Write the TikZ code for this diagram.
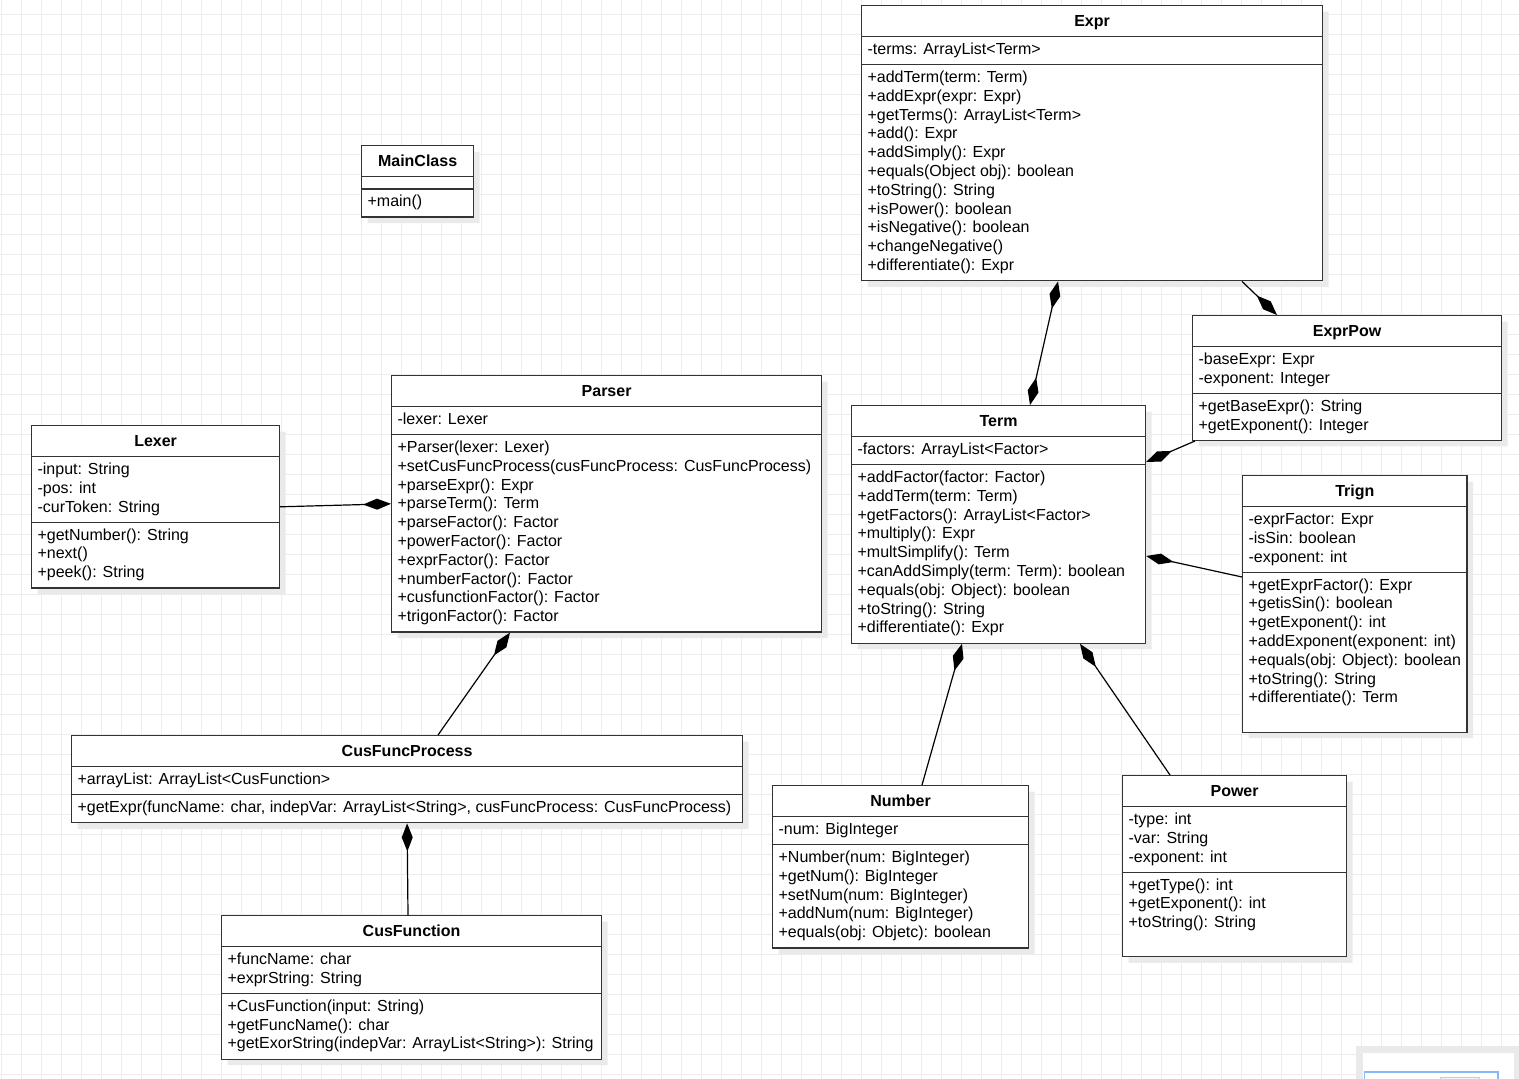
\documentclass[tikz,border=0pt]{standalone}
\usepackage{fontspec}
\setmainfont{Liberation Sans}
\usetikzlibrary{arrows.meta,shapes.multipart,shadows}
\definecolor{gridLine}{HTML}{EDEDED}
\definecolor{boxDraw}{HTML}{333333}
\definecolor{shadowFill}{HTML}{EAEAEA}
\definecolor{mapBlue}{HTML}{8AB8F5}
\tikzset{
  font=\fontsize{16}{18.8}\selectfont,
  cls/.style   ={draw=boxDraw, fill=white, line width=1.2pt, anchor=north west,
                 rectangle split, rectangle split parts=3,
                 rectangle split part align={center,left,left}, align=left,
                 inner xsep=6pt, inner ysep=4pt,
                 drop shadow={shadow xshift=6pt, shadow yshift=-6pt, fill=shadowFill, opacity=1}},
  comp/.style  ={-{Diamond[length=28pt,width=11pt]}, line width=1.2pt},
  bicomp/.style={{Diamond[length=28pt,width=11pt]}-{Diamond[length=28pt,width=11pt]}, line width=1.2pt},
  gridline/.style={draw=gridLine, line width=1pt},
}
\newcommand{\ttl}[1]{\rule[-6pt]{0pt}{22pt}\textbf{#1}}

\begin{document}
\begin{tikzpicture}[x=1pt, y=-1pt]
  \useasboundingbox (0,0) rectangle (1519,1079);
  % background grid
  \foreach \gx in {1,21,...,1501} \draw[gridline] (\gx,0) -- (\gx,1079);
  \foreach \gy in {14,34,...,1074} \draw[gridline] (0,\gy) -- (1519,\gy);

  % classes
  \node[cls, minimum width=461pt] (expr) at (861,5)
    {\ttl{Expr}
     \nodepart{second}\strut-terms: ArrayList<Term>
     \nodepart{third}\strut+addTerm(term: Term)\\+addExpr(expr: Expr)\\+getTerms(): ArrayList<Term>\\+add(): Expr\\+addSimply(): Expr\\+equals(Object obj): boolean\\+toString(): String\\+isPower(): boolean\\+isNegative(): boolean\\+changeNegative()\\+differentiate(): Expr\strut};
  \node[cls, minimum width=112pt] (main) at (361,145)
    {\ttl{MainClass}
     \nodepart{second}\rule{0pt}{3pt}
     \nodepart{third}\strut+main()};
  \node[cls, minimum width=309pt] (exprpow) at (1192,315)
    {\ttl{ExprPow}
     \nodepart{second}\strut-baseExpr: Expr\\-exponent: Integer\strut
     \nodepart{third}\strut+getBaseExpr(): String\\+getExponent(): Integer\strut};
  \node[cls, minimum width=430pt] (parser) at (391,375)
    {\ttl{Parser}
     \nodepart{second}\strut-lexer: Lexer
     \nodepart{third}\strut+Parser(lexer: Lexer)\\+setCusFuncProcess(cusFuncProcess: CusFuncProcess)\\+parseExpr(): Expr\\+parseTerm(): Term\\+parseFactor(): Factor\\+powerFactor(): Factor\\+exprFactor(): Factor\\+numberFactor(): Factor\\+cusfunctionFactor(): Factor\\+trigonFactor(): Factor\strut};
  \node[cls, minimum width=248pt] (lexer) at (31,425)
    {\ttl{Lexer}
     \nodepart{second}\strut-input: String\\-pos: int\\-curToken: String\strut
     \nodepart{third}\strut+getNumber(): String\\+next()\\+peek(): String\strut};
  \node[cls, minimum width=294pt] (term) at (851,405)
    {\ttl{Term}
     \nodepart{second}\strut-factors: ArrayList<Factor>
     \nodepart{third}\strut+addFactor(factor: Factor)\\+addTerm(term: Term)\\+getFactors(): ArrayList<Factor>\\+multiply(): Expr\\+multSimplify(): Term\\+canAddSimply(term: Term): boolean\\+equals(obj: Object): boolean\\+toString(): String\\+differentiate(): Expr\strut};
  \node[cls, minimum width=224pt] (trign) at (1242,475)
    {\ttl{Trign}
     \nodepart{second}\strut-exprFactor: Expr\\-isSin: boolean\\-exponent: int\strut
     \nodepart{third}\strut+getExprFactor(): Expr\\+getisSin(): boolean\\+getExponent(): int\\+addExponent(exponent: int)\\+equals(obj: Object): boolean\\+toString(): String\\+differentiate(): Term\rule[-24.6pt]{0pt}{24.6pt}};
  \node[cls, minimum width=671pt] (cusfp) at (71,735)
    {\ttl{CusFuncProcess}
     \nodepart{second}\strut+arrayList: ArrayList<CusFunction>
     \nodepart{third}\strut+getExpr(funcName: char, indepVar: ArrayList<String>, cusFuncProcess: CusFuncProcess)};
  \node[cls, minimum width=256pt] (number) at (772,785)
    {\ttl{Number}
     \nodepart{second}\strut-num: BigInteger
     \nodepart{third}\strut+Number(num: BigInteger)\\+getNum(): BigInteger\\+setNum(num: BigInteger)\\+addNum(num: BigInteger)\\+equals(obj: Objetc): boolean\strut};
  \node[cls, minimum width=224pt] (power) at (1122,775)
    {\ttl{Power}
     \nodepart{second}\strut-type: int\\-var: String\\-exponent: int\strut
     \nodepart{third}\strut+getType(): int\\+getExponent(): int\\+toString(): String\rule[-24.5pt]{0pt}{24.5pt}};
  \node[cls, minimum width=380pt] (cusf) at (221,915)
    {\ttl{CusFunction}
     \nodepart{second}\strut+funcName: char\\+exprString: String\strut
     \nodepart{third}\strut+CusFunction(input: String)\\+getFuncName(): char\\+getExorString(indepVar: ArrayList<String>): String\strut};

  % compositions (diamond at the whole)
  \draw[comp]   (lexer.east) -- (parser.west);
  \draw[comp]   ([xshift=367pt]cusfp.north west) -- ([xshift=119pt]parser.south west);
  \draw[comp]   ([xshift=187pt]cusf.north west) -- (cusfp.south);
  \draw[bicomp] ([xshift=197pt]expr.south west) -- ([xshift=179pt]term.north west);
  \draw[comp]   ([xshift=381pt]expr.south west) -- ([xshift=85pt]exprpow.north west);
  \draw[comp]   ([xshift=3pt]exprpow.south west) -- ([yshift=-57pt]term.north east);
  \draw[comp]   ([yshift=-102pt]trign.north west) -- ([yshift=-151pt]term.north east);
  \draw[comp]   ([xshift=150pt]number.north west) -- ([xshift=111pt]term.south west);
  \draw[comp]   ([xshift=48pt]power.north west) -- ([xshift=229pt]term.south west);

  % outline panel cut off at the corner
  \fill[shadowFill] (1356,1046) rectangle (1519,1079);
  \fill[white] (1363,1053) rectangle (1514,1079);
  \draw[mapBlue, line width=1.5pt] (1364.5,1079) |- (1498,1072) -- (1498,1079);
  \draw[black!20, fill=black!4] (1440,1077) rectangle (1479,1080);
\end{tikzpicture}
\end{document}
